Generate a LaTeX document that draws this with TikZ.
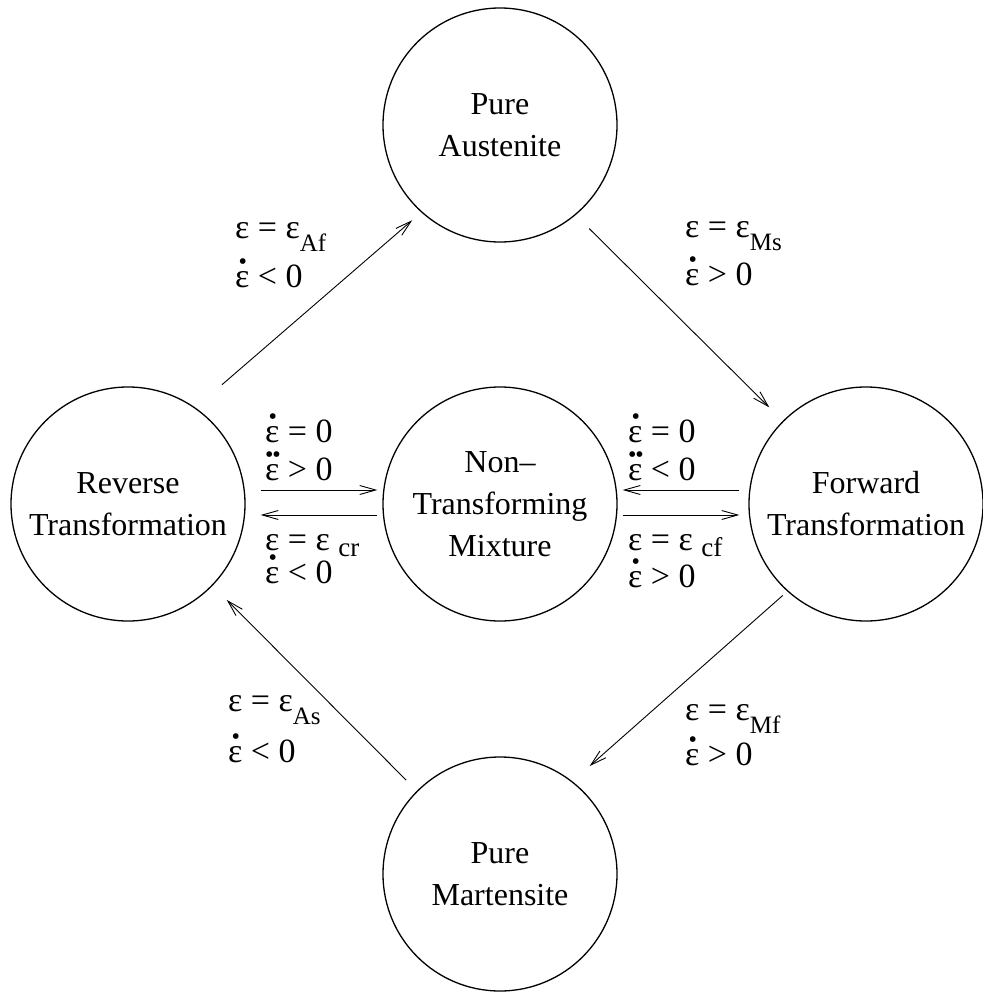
\documentclass[tikz,border=0pt]{standalone}
\usepackage{fontspec}
\setmainfont{Liberation Serif}
\usetikzlibrary{arrows.meta}

% strain with one or two dots on top
\newcommand{\edot}{\leavevmode\rlap{\hspace{3.4pt}\raisebox{18pt}{\fontsize{24}{24}\selectfont\textbullet}}ε}
\newcommand{\eddot}{\leavevmode\rlap{\hspace{-0.2pt}\raisebox{18pt}{\fontsize{24}{24}\selectfont\textbullet}}\rlap{\hspace{7.2pt}\raisebox{18pt}{\fontsize{24}{24}\selectfont\textbullet}}ε}
\newcommand{\lowsub}[1]{\raisebox{-13pt}{\fontsize{25}{25}\selectfont #1}}
\newcommand{\crsub}[1]{\raisebox{-6pt}{\fontsize{27}{27}\selectfont #1}}

\tikzset{
  phase/.style={draw, circle, line width=1.3pt, minimum size=234pt, inner sep=0pt,
    align=center, font=\fontsize{32}{42}\selectfont},
  cond/.style={anchor=base west, align=left, inner sep=0pt, font=\fontsize{34}{38}\selectfont},
  trans/.style={line width=0.9pt, -{Straight Barb[length=16pt,width=9pt,line width=0.9pt]}}
}

\begin{document}
\begin{tikzpicture}[x=1pt, y=-1pt]
    \useasboundingbox (0,0) rectangle (982,992);

    \node[phase] (aus)  at (500,125) {Pure\\Austenite};
    \node[phase] (rev)  at (128,504) {Reverse\\Transformation};
    \node[phase] (mix)  at (500,504) {Non–\\Transforming\\Mixture};
    \node[phase] (fwd)  at (866,504) {Forward\\Transformation};
    \node[phase] (mart) at (500,874) {Pure\\Martensite};

    % outer loop
    \draw[trans, shorten <=35pt, shorten >=12pt] (rev.55) -- (aus.228);
    \draw[trans, shorten <=19pt, shorten >=19pt] (aus.310) -- (fwd.135);
    \draw[trans, shorten <=6pt, shorten >=23pt] (fwd.228) -- (mart.52);
    \draw[trans, shorten <=15pt, shorten >=20pt] (mart.135) -- (rev.316);

    % to and from the mixture
    \draw[trans] ([xshift=15pt,yshift=14pt]rev.east) -- ([xshift=-5pt,yshift=14pt]mix.west);
    \draw[trans] ([xshift=-5pt,yshift=-11pt]mix.west) -- ([xshift=15pt,yshift=-11pt]rev.east);
    \draw[trans] ([xshift=-9pt,yshift=14pt]fwd.west) -- ([xshift=5pt,yshift=14pt]mix.east);
    \draw[trans] ([xshift=5pt,yshift=-11pt]mix.east) -- ([xshift=-9pt,yshift=-11pt]fwd.west);

    % conditions, anchored at the baseline of the second line
    \node[cond] (cAf) at (235,287) {ε = ε\lowsub{Af}\\[6pt]\edot{} < 0};
    \node[cond] (cMs) at (685,285) {ε = ε\lowsub{Ms}\\[4pt]\edot{} > 0};
    \node[cond] (cRin) at (265,480) {\edot{} = 0\\\eddot{} > 0};
    \node[cond] (cRout) at (265,583) {ε = ε\ \crsub{cr}\\[-5pt]\edot{} < 0};
    \node[cond] (cFin) at (628,480) {\edot{} = 0\\\eddot{} < 0};
    \node[cond] (cFout) at (628,587) {ε = ε\ \crsub{cf}\\[-1pt]\edot{} > 0};
    \node[cond] (cAs) at (228,762) {ε = ε\lowsub{As}\\[7pt]\edot{} < 0};
    \node[cond] (cMf) at (685,765) {ε = ε\lowsub{Mf}\\[2pt]\edot{} > 0};
\end{tikzpicture}
\end{document}
